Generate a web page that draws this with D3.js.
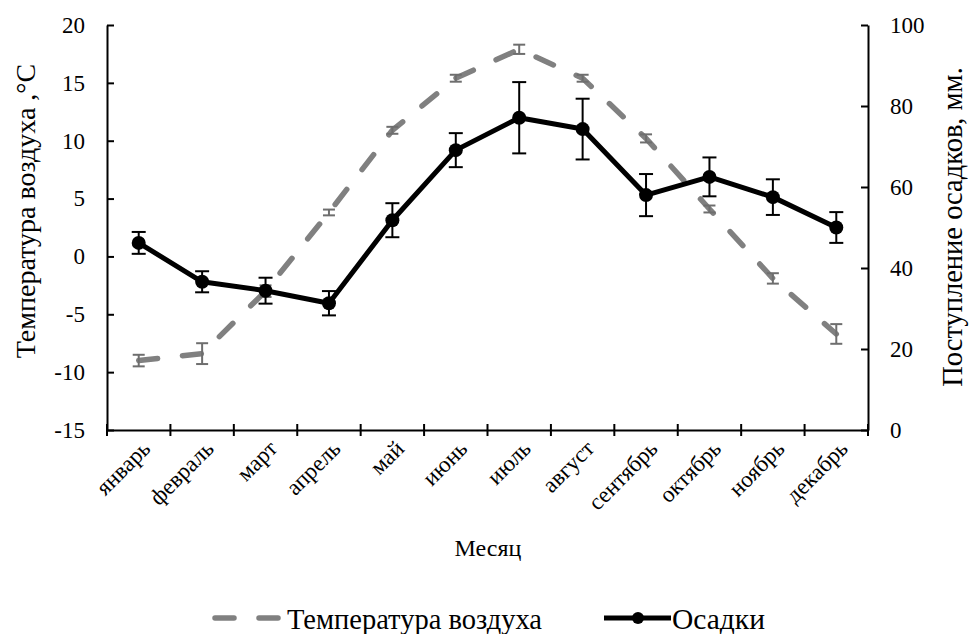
<!DOCTYPE html>
<html><head><meta charset="utf-8">
<script src="https://cdn.jsdelivr.net/npm/d3@7"></script>
<style>body{margin:0;background:#fff}svg{display:block}</style>
</head><body>
<svg id="c" width="972" height="634" font-family="'Liberation Serif', 'Times New Roman', Times, serif"></svg>
<script>
const months = ["январь","февраль","март","апрель","май","июнь","июль","август","сентябрь","октябрь","ноябрь","декабрь"];
const tempValues = [-9.0,-8.4,-3.0,3.8,10.9,15.4,17.9,15.4,10.2,4.1,-1.9,-6.7];
const tempErrors = [0.5,0.9,0.5,0.25,0.3,0.3,0.4,0.3,0.35,0.3,0.45,0.85];
const precValues = [46.2,36.6,34.4,31.3,51.8,69.1,77.1,74.3,58.0,62.5,57.5,50.0];
const precErrors = [2.7,2.6,3.2,3.0,4.2,4.2,8.8,7.5,5.2,4.8,4.4,3.8];
const tempTicks = [-15,-10,-5,0,5,10,15,20];
const precTicks = [0,20,40,60,80,100];

const FF = "Liberation Serif, Times New Roman, serif";
const svg = d3.select("#c");
const L=107,R=868,T=25,B=430;
const x = d3.scaleBand().domain(months).range([L,R]).padding(0);
const yT = d3.scaleLinear().domain([-15,20]).range([B,T]);
const yP = d3.scaleLinear().domain([0,100]).range([B,T]);
const cx = m => x(m)+x.bandwidth()/2;

// axes
const gl = svg.append("g").attr("transform",`translate(${L},0)`)
  .call(d3.axisLeft(yT).tickValues(tempTicks).tickFormat(d=>String(d)).tickSizeInner(-7).tickSizeOuter(0).tickPadding(22));
const gr = svg.append("g").attr("transform",`translate(${R},0)`)
  .call(d3.axisRight(yP).tickValues(precTicks).tickFormat(d=>String(d)).tickSizeInner(-7).tickSizeOuter(0).tickPadding(22));
const gb = svg.append("g").attr("transform",`translate(0,${B})`)
  .call(d3.axisBottom(x).tickValues([]).tickSizeOuter(0));
[gl,gr,gb].forEach(g=>{g.attr("font-family",FF).attr("font-size",23);
  g.select(".domain").attr("stroke","#000").attr("stroke-width",2);
  g.selectAll(".tick line").attr("stroke","#000").attr("stroke-width",2);
  g.selectAll("text").attr("font-family",FF).attr("font-size",23).attr("fill","#000");});
gl.selectAll(".tick text").attr("dx",0).attr("text-anchor","end");
// category boundary ticks (cross)
const bounds = months.map(m=>x(m)).concat([R]);
svg.append("g").selectAll("line").data(bounds).join("line")
  .attr("x1",d=>d).attr("x2",d=>d).attr("y1",B-6).attr("y2",B+6)
  .attr("stroke","#000").attr("stroke-width",2);
// x labels rotated
svg.append("g").selectAll("text").data(months).join("text")
  .attr("x",m=>cx(m)+13).attr("y",B+20)
  .attr("transform",m=>`rotate(-45 ${cx(m)+13} ${B+20})`)
  .attr("text-anchor","end").attr("font-family",FF).attr("font-size",23).text(m=>m);

// titles
svg.append("text").attr("transform",`translate(35,211) rotate(-90)`).attr("text-anchor","middle")
  .attr("font-family",FF).attr("font-size",28).text("Температура воздуха ,°С");
svg.append("text").attr("transform",`translate(962,227) rotate(-90)`).attr("text-anchor","middle")
  .attr("font-family",FF).attr("font-size",28.5).text("Поступление осадков, мм.");
svg.append("text").attr("x",488).attr("y",556).attr("text-anchor","middle").attr("font-family",FF).attr("font-size",24).text("Месяц");

// temperature dashed line
const lineT = d3.line().x((d,i)=>cx(months[i])).y(d=>yT(d));
svg.append("path").datum(tempValues).attr("d",lineT).attr("fill","none")
  .attr("stroke","#808080").attr("stroke-width",5.5).attr("stroke-linecap","round").attr("stroke-dasharray","19,25");
// temperature error bars
const eT = svg.append("g").attr("stroke","#6e6e6e").attr("stroke-width",2);
tempValues.forEach((v,i)=>{const X=cx(months[i]),y1=yT(v-tempErrors[i]),y2=yT(v+tempErrors[i]);
  eT.append("line").attr("x1",X).attr("x2",X).attr("y1",y1).attr("y2",y2);
  eT.append("line").attr("x1",X-6).attr("x2",X+6).attr("y1",y1).attr("y2",y1);
  eT.append("line").attr("x1",X-6).attr("x2",X+6).attr("y1",y2).attr("y2",y2);});

// precipitation error bars
const eP = svg.append("g").attr("stroke","#000").attr("stroke-width",2);
precValues.forEach((v,i)=>{const X=cx(months[i]),y1=yP(v-precErrors[i]),y2=yP(v+precErrors[i]);
  eP.append("line").attr("x1",X).attr("x2",X).attr("y1",y1).attr("y2",y2);
  eP.append("line").attr("x1",X-7).attr("x2",X+7).attr("y1",y1).attr("y2",y1);
  eP.append("line").attr("x1",X-7).attr("x2",X+7).attr("y1",y2).attr("y2",y2);});
// precipitation line
const lineP = d3.line().x((d,i)=>cx(months[i])).y(d=>yP(d));
svg.append("path").datum(precValues).attr("d",lineP).attr("fill","none")
  .attr("stroke","#000").attr("stroke-width",5).attr("stroke-linejoin","round");
svg.append("g").selectAll("circle").data(precValues).join("circle")
  .attr("cx",(d,i)=>cx(months[i])).attr("cy",d=>yP(d)).attr("r",7).attr("fill","#000");

// legend
const lg = svg.append("g").attr("font-family",FF);
lg.append("line").attr("x1",215).attr("x2",279).attr("y1",618).attr("y2",618)
  .attr("stroke","#808080").attr("stroke-width",5.5).attr("stroke-linecap","round").attr("stroke-dasharray","19,25");
lg.append("text").attr("x",287).attr("y",629).attr("font-family",FF).attr("font-size",28.5).text("Температура воздуха");
lg.append("line").attr("x1",604).attr("x2",671).attr("y1",618).attr("y2",618).attr("stroke","#000").attr("stroke-width",5);
lg.append("circle").attr("cx",638).attr("cy",618).attr("r",6).attr("fill","#000");
lg.append("text").attr("x",672).attr("y",629).attr("font-family",FF).attr("font-size",29.5).text("Осадки");
</script></body></html>
